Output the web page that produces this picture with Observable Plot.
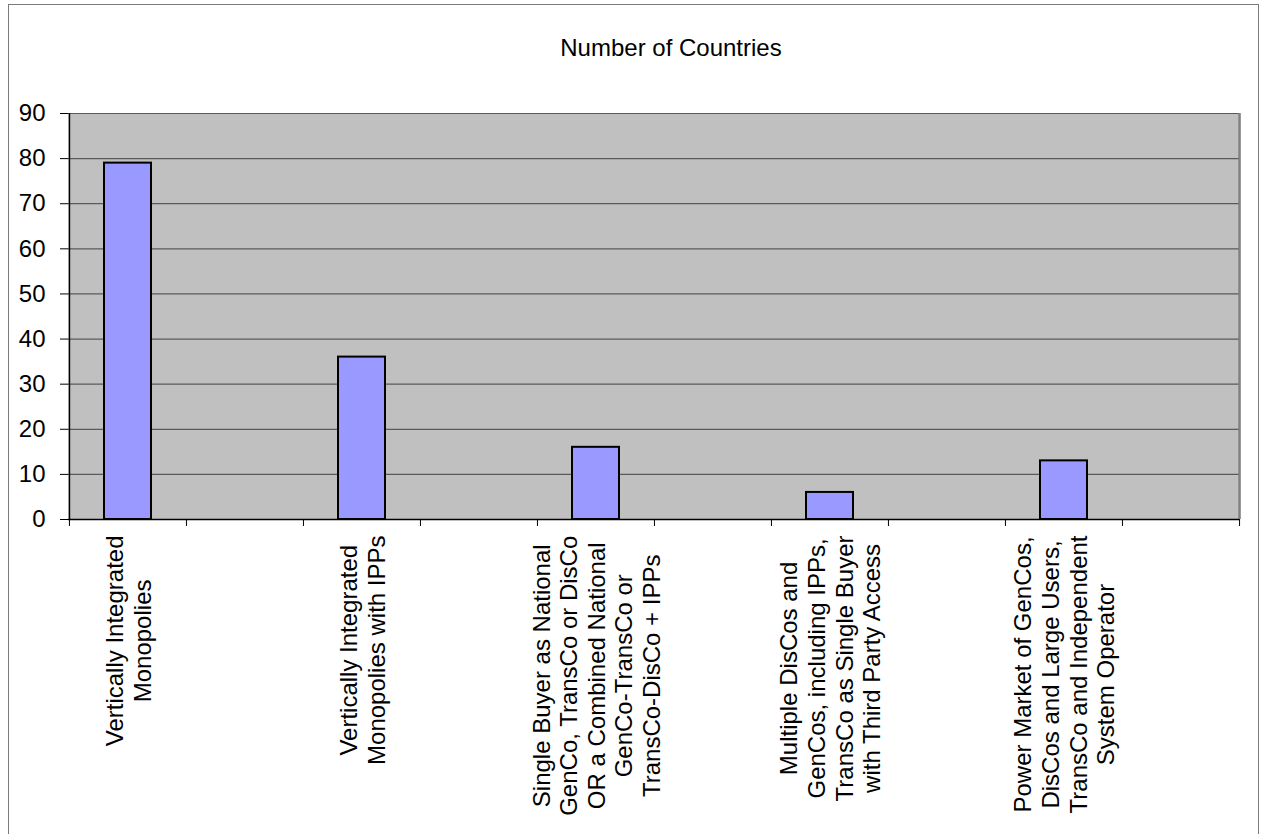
<!DOCTYPE html>
<html>
<head>
<meta charset="utf-8">
<script src="https://cdn.jsdelivr.net/npm/d3@7"></script>
<script src="https://cdn.jsdelivr.net/npm/@observablehq/plot@0.6"></script>
<style>
  html, body { margin: 0; padding: 0; background: #fff; overflow: hidden; }
  #wrap { position: relative; width: 1269px; height: 834px; font-family: "Liberation Sans", Arial, sans-serif; }
  #border { position: absolute; left: 8px; top: 4px; width: 1251px; height: 900px; box-sizing: border-box; border: 1px solid #7a7a7a; }
  #title { position: absolute; left: 0; width: 1342px; top: 36px; text-align: center; font-size: 24px; line-height: 24px; color: #000; }
  #chart { position: absolute; left: 0; top: 0; }
</style>
</head>
<body>
<div id="wrap">
  <div id="border"></div>
  <div id="title">Number of Countries</div>
  <div id="chart"></div>
</div>
<script>
// ---- data ----
const categories = [
  "Vertically Integrated\nMonopolies",
  "Vertically Integrated\nMonopolies with IPPs",
  "Single Buyer as National\nGenCo, TransCo or DisCo\nOR a Combined National\nGenCo-TransCo or\nTransCo-DisCo + IPPs",
  "Multiple DisCos and\nGenCos, including IPPs,\nTransCo as Single Buyer\nwith Third Party Access",
  "Power Market of GenCos,\nDisCos and Large Users,\nTransCo and Independent\nSystem Operator"
];
const counts = [79, 36, 16, 6, 13];
const yTicks = [0, 10, 20, 30, 40, 50, 60, 70, 80, 90];

// ---- layout ----
const W = 1269, H = 834;
const mL = 68, mR = 30, mT = 113, mB = 315;
const fs = 24;
const fontFamily = '"Liberation Sans", Arial, sans-serif';

// Excel-style category slots: each labelled category followed by an empty slot
const domain = [];
categories.forEach((c, i) => { domain.push(c); domain.push("gap" + i); });
const step = (W - mL - mR) / domain.length;

const data = categories.map((c, i) => ({category: c, count: counts[i]}));

// measure text for label block placement
const ctx = document.createElement("canvas").getContext("2d");
ctx.font = `${fs}px "Liberation Sans"`;
function maxLineWidth(s) {
  return d3.max(s.split("\n"), l => ctx.measureText(l).width);
}

const labelMarks = data.map(d => Plot.text([d], {
  x: "category",
  frameAnchor: "bottom",
  text: "category",
  rotate: -90,
  textAnchor: "middle",
  lineAnchor: "middle",
  lineHeight: 1.15,
  fontSize: fs,
  fill: "black",
  dy: 16 + maxLineWidth(d.category) / 2
}));

const chart = Plot.plot({
  width: W,
  height: H,
  marginLeft: mL,
  marginRight: mR,
  marginTop: mT,
  marginBottom: mB,
  style: {fontFamily, fontSize: fs + "px", background: "transparent", color: "black", overflow: "visible"},
  x: {domain, paddingInner: 0.6, paddingOuter: 0.3, label: null},
  y: {domain: [0, 90], label: null},
  marks: [
    Plot.frame({fill: "#C0C0C0", stroke: null}),
    Plot.gridY(yTicks.slice(1), {stroke: "#5a5a5a", strokeOpacity: 1, strokeWidth: 1.2}),
    Plot.ruleX([domain[domain.length - 1]], {dx: step / 2, stroke: "#808080", strokeWidth: 2.5}),
    Plot.barY(data, {x: "category", y: "count", fill: "#9999FF", stroke: "black", strokeWidth: 2}),
    Plot.ruleX([domain[0]], {dx: -step / 2, stroke: "black", strokeWidth: 1.5}),
    Plot.ruleY([0], {stroke: "black", strokeWidth: 1.5}),
    Plot.axisY({ticks: yTicks, tickSize: 8, tickPadding: 15, fontSize: fs, stroke: "black", strokeOpacity: 1, fill: "black"}),
    Plot.axisX({ticks: domain, tickSize: 7, tickFormat: () => "", dx: -step / 2, stroke: "black", strokeOpacity: 1}),
    Plot.axisX({ticks: [domain[domain.length - 1]], tickSize: 7, tickFormat: () => "", dx: step / 2, stroke: "black", strokeOpacity: 1}),
    ...labelMarks
  ]
});
document.getElementById("chart").appendChild(chart);
</script>
</body>
</html>
